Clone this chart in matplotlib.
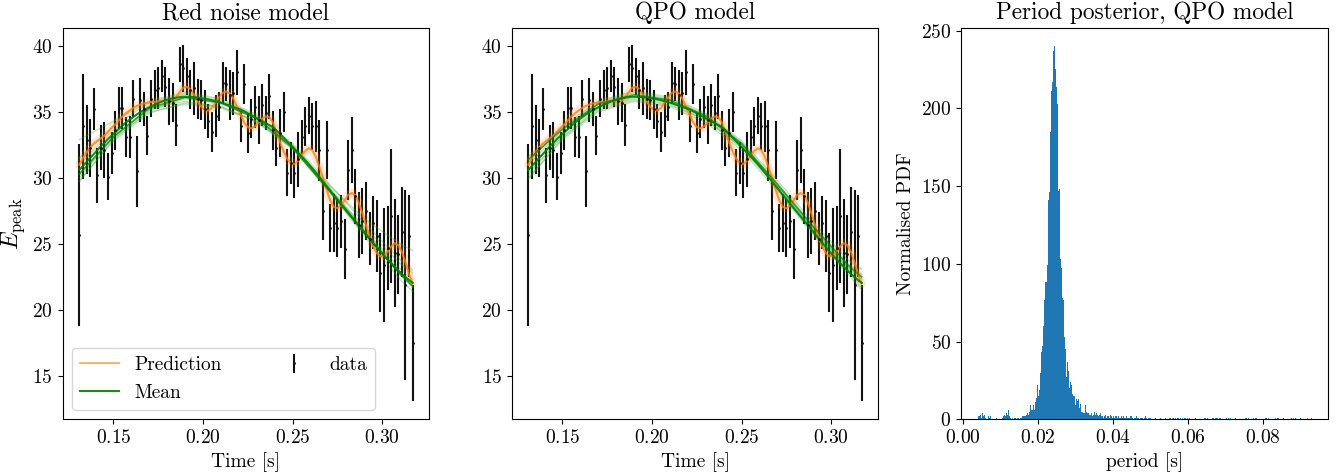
import matplotlib
matplotlib.use("Agg")
import matplotlib.pyplot as plt
import numpy as np

plt.rcParams.update({
    'font.family': 'cmr10',
    'mathtext.fontset': 'cm',
    'axes.formatter.use_mathtext': True,
    'font.size': 14,
})

# sample times [s]
t = [0.131, 0.133, 0.135, 0.137, 0.139, 0.141, 0.143, 0.145, 0.147, 0.149,
     0.151, 0.153, 0.155, 0.157, 0.159, 0.161, 0.163, 0.165, 0.167, 0.169,
     0.171, 0.173, 0.175, 0.177, 0.179, 0.181, 0.183, 0.185, 0.187, 0.189,
     0.191, 0.193, 0.195, 0.197, 0.199, 0.201, 0.203, 0.205, 0.207, 0.209,
     0.211, 0.213, 0.215, 0.217, 0.219, 0.221, 0.223, 0.225, 0.227, 0.229,
     0.231, 0.233, 0.235, 0.237, 0.239, 0.241, 0.243, 0.245, 0.247, 0.249,
     0.251, 0.253, 0.255, 0.257, 0.259, 0.261, 0.263, 0.265, 0.267, 0.269,
     0.271, 0.273, 0.275, 0.277, 0.279, 0.281, 0.283, 0.285, 0.287, 0.289,
     0.291, 0.293, 0.295, 0.297, 0.299, 0.301, 0.303, 0.305, 0.307, 0.309,
     0.311, 0.313, 0.315, 0.317]

# E_peak data and errors
epeak = [25.7, 33.9, 32.9, 32.3, 35.2, 30.2, 32.3, 32.1, 30.1, 31.9,
         33.6, 35.3, 35.3, 33.1, 33.1, 36.0, 30.5, 35.9, 35.2, 33.2,
         36.0, 36.7, 36.8, 37.7, 36.9, 35.8, 35.7, 34.0, 38.6, 38.3,
         37.7, 36.7, 36.8, 36.0, 35.9, 35.2, 34.3, 33.5, 34.7, 35.4,
         37.2, 37.1, 36.3, 36.4, 38.0, 33.9, 37.1, 33.4, 34.5, 35.4,
         34.4, 35.5, 34.9, 36.2, 33.6, 32.3, 33.4, 35.0, 30.4, 31.1,
         30.4, 31.4, 33.1, 33.9, 34.7, 33.9, 33.9, 32.1, 27.5, 32.1,
         26.2, 26.6, 26.2, 26.7, 24.6, 30.6, 32.1, 28.6, 26.4, 26.7,
         27.5, 25.4, 26.6, 25.6, 22.8, 23.4, 24.7, 27.1, 24.3, 24.2,
         25.9, 21.9, 25.6, 17.5]
epeak_err = [6.9, 4.0, 2.6, 2.2, 1.6, 2.1, 1.7, 2.1, 1.8, 1.6,
             1.5, 1.6, 1.6, 1.5, 1.6, 1.4, 2.7, 1.7, 1.3, 1.5,
             1.4, 1.5, 1.6, 1.2, 1.5, 1.8, 1.5, 1.6, 1.3, 1.8,
             1.4, 1.5, 2.0, 1.5, 1.5, 1.5, 1.3, 1.5, 1.6, 1.1,
             1.6, 1.3, 1.9, 1.6, 1.7, 1.2, 1.5, 1.5, 1.5, 1.6,
             1.8, 1.6, 1.3, 1.7, 1.5, 1.4, 1.8, 1.5, 1.8, 1.6,
             1.9, 2.1, 1.3, 1.5, 1.4, 1.8, 1.9, 2.3, 2.2, 2.2,
             1.8, 2.2, 2.2, 2.0, 2.3, 2.3, 2.5, 2.1, 2.5, 2.5,
             2.2, 2.0, 2.0, 2.7, 3.0, 4.3, 3.2, 5.1, 4.1, 3.0,
             3.4, 7.2, 3.1, 4.4]

# GP prediction (orange) and mean function (green)
prediction = [31.0, 31.5, 31.9, 32.3, 32.6, 32.8, 33.0, 33.2, 33.5, 33.8,
              34.05, 34.35, 34.65, 34.9, 35.1, 35.3, 35.45, 35.55, 35.65, 35.7,
              35.75, 35.75, 35.8, 35.85, 35.8, 35.8, 35.85, 36.1, 36.5, 36.85,
              36.9, 36.7, 36.3, 35.8, 35.4, 35.15, 35.1, 35.3, 35.7, 36.1,
              36.45, 36.55, 36.4, 36.0, 35.4, 34.8, 34.2, 33.85, 33.75, 33.9,
              34.2, 34.5, 34.65, 34.6, 34.2, 33.5, 32.7, 32.0, 31.45, 31.1,
              31.05, 31.3, 31.7, 32.05, 32.25, 32.1, 31.6, 30.8, 30.0, 29.1,
              28.3, 27.8, 27.7, 27.9, 28.3, 28.7, 28.85, 28.7, 28.1, 27.3,
              26.4, 25.5, 24.8, 24.3, 24.05, 24.1, 24.4, 24.8, 25.05, 24.9,
              24.4, 23.6, 22.7, 22.0]
mean = [30.6, 30.9, 31.2, 31.5, 31.8, 32.1, 32.4, 32.65, 32.95, 33.2,
        33.45, 33.7, 33.95, 34.2, 34.4, 34.6, 34.8, 34.97, 35.13, 35.28,
        35.42, 35.55, 35.67, 35.78, 35.88, 35.96, 36.03, 36.08, 36.12, 36.15,
        36.15, 36.14, 36.12, 36.09, 36.05, 36.0, 35.95, 35.89, 35.82, 35.74,
        35.66, 35.57, 35.47, 35.37, 35.28, 35.18, 35.05, 34.9, 34.75, 34.6,
        34.45, 34.3, 34.15, 34.0, 33.85, 33.6, 33.33, 33.05, 32.77, 32.49,
        32.2, 31.92, 31.64, 31.35, 31.05, 30.72, 30.39, 30.06, 29.72, 29.38,
        29.04, 28.7, 28.37, 28.04, 27.71, 27.38, 27.05, 26.72, 26.39, 26.06,
        25.73, 25.4, 25.07, 24.75, 24.43, 24.12, 23.82, 23.53, 23.25, 22.98,
        22.72, 22.48, 22.25, 22.05]

# posterior mean samples at a coarse set of times
t_knots = [0.131, 0.15, 0.17, 0.19, 0.21, 0.23, 0.25, 0.27, 0.29, 0.31, 0.317]
rn_samples = [
    [29.7, 32.9, 35.1, 36.0, 35.6, 34.5, 32.4, 29.3, 26.0, 22.9, 22.0],
    [30.0, 33.1, 35.2, 36.1, 35.7, 34.5, 32.3, 29.1, 25.8, 22.7, 21.7],
    [31.0, 33.6, 35.5, 36.3, 35.8, 34.6, 32.4, 29.2, 25.9, 22.8, 21.9],
    [31.5, 33.9, 35.7, 36.4, 35.9, 34.7, 32.5, 29.4, 26.1, 23.1, 22.3],
    [32.9, 34.3, 35.8, 36.5, 36.0, 34.8, 32.6, 29.6, 26.6, 23.8, 23.0],
    [30.3, 33.2, 35.2, 35.8, 35.4, 34.2, 32.2, 29.2, 26.3, 23.5, 22.8],
    [30.2, 33.0, 35.0, 35.6, 35.3, 34.3, 32.3, 29.5, 26.9, 25.0, 24.5],
    [29.8, 32.8, 34.9, 35.7, 35.4, 34.3, 32.2, 29.0, 25.6, 22.3, 21.4],
]
rn_dark = [30.3, 33.1, 35.3, 36.1, 35.7, 34.5, 32.3, 29.1, 25.8, 22.7, 21.8]
qpo_samples = [
    [29.9, 33.0, 35.2, 36.0, 35.6, 34.4, 32.3, 29.2, 25.9, 22.8, 21.7],
    [30.2, 33.2, 35.3, 36.1, 35.7, 34.5, 32.4, 29.3, 26.0, 22.9, 21.9],
    [30.6, 33.4, 35.4, 36.2, 35.8, 34.6, 32.5, 29.4, 26.1, 23.0, 22.1],
    [31.0, 33.6, 35.6, 36.4, 35.9, 34.7, 32.6, 29.5, 26.2, 23.2, 22.4],
    [31.3, 33.8, 35.7, 36.5, 36.0, 34.8, 32.7, 29.6, 26.4, 23.4, 22.7],
    [31.6, 33.9, 35.8, 36.6, 36.1, 34.9, 32.8, 29.8, 26.6, 23.7, 23.1],
    [30.4, 33.1, 35.1, 35.9, 35.5, 34.4, 32.3, 29.3, 26.1, 23.1, 22.3],
    [30.0, 32.9, 35.0, 35.8, 35.4, 34.2, 32.1, 29.0, 25.7, 22.6, 21.5],
]
qpo_dark = [31.4, 33.7, 35.6, 36.3, 35.9, 34.7, 32.6, 29.5, 26.3, 23.3, 22.5]

# period posterior histogram
period_start = 0.0039
period_binw = 0.00027
period_pdf = [
    2, 2, 3, 1, 4, 2, 3, 1, 0, 0, 2, 1, 2, 0, 0, 0, 0, 0, 1, 0,
    0, 0, 0, 0, 1, 2, 3, 2, 4, 3, 6, 2, 1, 0, 1, 0, 1, 1, 0, 1,
    1, 0, 1, 1, 2, 2, 2, 2, 3, 4, 3, 5, 9, 6, 6, 9, 6, 11, 14, 22,
    15, 19, 30, 43, 47, 60, 77, 88, 99, 141, 146, 185, 211, 217, 237, 240, 225, 214, 203, 147,
    148, 103, 97, 78, 77, 53, 45, 27, 37, 31, 20, 24, 22, 16, 15, 15, 9, 13, 12, 13,
    7, 10, 5, 5, 4, 4, 9, 5, 4, 4, 3, 3, 4, 2, 3, 5, 3, 4, 3, 2,
    3, 4, 2, 2, 1, 2, 3, 1, 2, 2, 1, 3, 2, 1, 2, 1, 2, 2, 1, 2,
    1, 1, 2, 1, 2, 1, 1, 2, 1, 1, 1, 2, 1, 0, 1, 1, 2, 1, 1, 0,
    1, 1, 1, 0, 1, 2, 1, 0, 1, 1,
    1, 0, 0, 0, 0, 1, 0, 0, 0, 0, 1, 0, 0, 0, 0, 1, 0, 0, 0, 1,
    1, 0, 1, 1, 0, 1, 0, 1, 1, 0, 1, 0, 1, 0, 1, 1, 0, 1, 0, 1,
    0, 0, 0, 0, 0, 1, 0, 0, 0, 0, 0, 0, 0, 0, 1, 1, 0, 1, 0, 0,
    0, 0, 1, 1, 0, 1, 1, 0, 1, 1, 0, 0, 0, 0, 0, 1, 0, 1, 0, 1,
    0, 0, 0, 0, 1, 0, 0, 0, 0, 0, 0, 0, 0, 0, 1, 1, 0, 1, 0, 0,
    0, 0, 1, 0, 1, 1, 0, 0, 0, 0, 0, 0, 0, 0, 1, 1, 0, 1, 0, 0,
    0, 0, 0, 0, 1, 0, 1, 1, 0, 0, 0, 0, 1, 0, 0, 0, 0, 0, 0, 0,
    1, 0, 1, 0, 1, 0, 0, 0, 0, 1, 0, 0, 0, 0, 0, 1, 0, 0, 0, 1,
]

fig = plt.figure(figsize=(13.42, 4.72), dpi=100)
ax1 = fig.add_axes([0.0467, 0.1117, 0.2732, 0.830])
ax2 = fig.add_axes([0.3813, 0.1117, 0.2732, 0.830])
ax3 = fig.add_axes([0.7161, 0.1117, 0.2737, 0.830])


def draw_panel(ax, samples, dark, title):
    ax.errorbar(t, epeak, yerr=epeak_err, fmt='.', color='#111111', ms=2,
                elinewidth=1.5, label='data')
    for s in samples:
        ax.plot(t_knots, s, color='C2', alpha=0.3, lw=1)
    ax.plot(t, prediction, color='C1', alpha=0.18, lw=6, solid_capstyle='round')
    ax.plot(t, prediction, color='C1', alpha=0.6, lw=1.5, label='Prediction')
    ax.plot(t, prediction, color='C1', alpha=0.5, lw=1.2)
    ax.plot(t_knots, dark, color='green', alpha=0.7, lw=1.2)
    ax.plot(t, mean, color='green', alpha=0.9, lw=1.5, label='Mean')
    ax.set_ylim(11.7, 41.4)
    ax.set_xticks([0.15, 0.20, 0.25, 0.30])
    ax.set_xlabel('Time [s]')
    ax.set_title(title)


draw_panel(ax1, rn_samples, rn_dark, 'Red noise model')
ax1.set_ylabel(r'$E_{\rm peak}$', fontsize=17)
ax1.legend(loc='lower left', ncol=2, columnspacing=2.7)

draw_panel(ax2, qpo_samples, qpo_dark, 'QPO model')

edges = period_start + period_binw * np.arange(len(period_pdf) + 1)
ax3.stairs(period_pdf, edges, fill=True, color='C0')
ax3.set_xlabel('period [s]')
ax3.set_ylabel('Normalised PDF')
ax3.set_title('Period posterior, QPO model')
ax3.margins(x=0.05)
ax3.set_ylim(0, 252)

fig.savefig('out.png', dpi=100)
